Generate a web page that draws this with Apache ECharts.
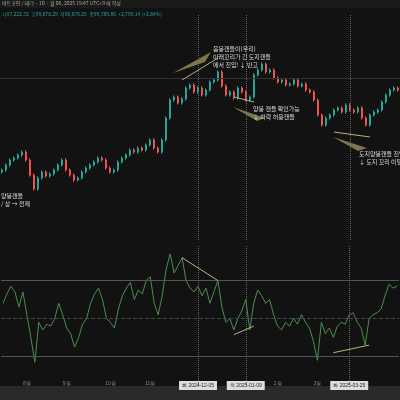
<!DOCTYPE html>
<html><head><meta charset="utf-8">
<script src="https://cdn.jsdelivr.net/npm/echarts@6/dist/echarts.min.js"></script>
<style>html,body{margin:0;background:#121212}#c{width:400px;height:400px}</style>
</head><body><div id="c"></div>
<script>
const closes=[59,61.5,64,65,66.5,68,64,56.5,49.5,55,58,56,57,59,61.5,64,59,56.5,54,55,58,60,61.5,63,65,64,60,58,59,63,65,66.5,69,68,70,69,71.5,74,70,68,74,85,94,95.5,92.5,94.5,100,101.5,98,100,96.5,99,103,104,108,101,96.5,98,95,100,98,94,95.5,106.5,109,112,108,109,105,103,104,101.5,102,104,101,102,99,98,94,86.5,81.5,85,86.5,89,90,88,91.5,89,88,90,85,81.5,86.5,88,89,93,96.5,99,100,99];
const rsi=[58,63,67,64,56,64,52,40,27,48,44,47,46,50,58,52,45,42,35,40,47,50,58,63,66,60,50,48,45,55,62,66,69,60,65,63,70,72,58,52,62,76,84,74,78,82,70,66,64,67,62,66,58,64,70,56,48,50,44,50,54,60,44,58,65,62,58,60,52,46,44,48,46,50,47,52,48,45,38,28,48,42,45,40,46,48,47,52,53,48,45,36,50,52,53,55,62,68,66,67];
const tickLabels={6:'8월',16:'9월',27:'10월',37:'11월',49:'화 2024-12-05',61:'목 2025-01-09',69:'2월',79:'3월',87:'화 2025-03-25'};
const boxed=[49,61,87];
const cats=closes.map((c,i)=>tickLabels[i]||('d'+i));
const ohlc=closes.map((c,i)=>{const o=i?closes[i-1]:c-1;return [o,c,Math.min(o,c)-0.8,Math.max(o,c)+0.8];});
const chart=echarts.init(document.getElementById('c'));
const ann='#b8b27a';
const txt=(x,y,s)=>({type:'text',left:x,top:y,z:10,style:{text:s,fill:'#ddd',font:'6px "Noto Sans CJK KR"',lineHeight:8}});
const arrow=(pts)=>({type:'polygon',shape:{points:pts},style:{fill:'rgba(150,145,90,0.8)'}});
const seg=(a,b,c,d)=>[{coord:[a,b],lineStyle:{color:ann,type:'solid',width:1}},{coord:[c,d]}];
chart.setOption({
 backgroundColor:'#121212',animation:false,
 grid:[{left:0,right:0,top:15,height:225},{left:0,right:0,top:245,height:140}],
 xAxis:[{type:'category',data:cats,gridIndex:0,axisLine:{show:false},axisTick:{show:false},axisLabel:{show:false},splitLine:{show:false}},
  {type:'category',data:cats,gridIndex:1,axisLine:{show:false},axisTick:{show:false},
   axisLabel:{interval:0,color:'#888',fontSize:5,margin:-4,formatter:(v,i)=>tickLabels[i]?(boxed.includes(i)?'{b|'+v+'}':v):'',rich:{b:{backgroundColor:'#ddd',color:'#222',padding:[2,3],fontSize:5}}},splitLine:{show:false}}],
 yAxis:[{gridIndex:0,min:24,max:136.5,show:false,splitLine:{show:false}},{gridIndex:1,min:15,max:88.7,show:false,splitLine:{show:false}}],
 series:[
  {type:'candlestick',xAxisIndex:0,yAxisIndex:0,data:ohlc,barWidth:'55%',
   itemStyle:{color:'#26a69a',color0:'#ef5350',borderColor:'#26a69a',borderColor0:'#ef5350'},
   markLine:{symbol:'none',silent:true,label:{show:false},data:[
    {yAxis:105,lineStyle:{color:'#333',type:'solid',width:1}},
    {xAxis:49,lineStyle:{color:'#666',type:'dotted',width:1}},{xAxis:61,lineStyle:{color:'#666',type:'dotted',width:1}},{xAxis:87,lineStyle:{color:'#666',type:'dotted',width:1}},
    seg(44.5,104,53.7,115),seg(58,95.5,62.75,93),seg(82.75,78,92,75.5)
   ]}},
  {type:'line',xAxisIndex:1,yAxisIndex:1,data:rsi,symbol:'none',lineStyle:{color:'#4a8f4e',width:1},
   markLine:{symbol:'none',silent:true,label:{show:false},data:[
    {yAxis:70,lineStyle:{color:'#555',type:'solid',width:1}},{yAxis:50,lineStyle:{color:'#444',type:'dashed',width:1}},{yAxis:30,lineStyle:{color:'#555',type:'solid',width:1}},
    {xAxis:49,lineStyle:{color:'#666',type:'dotted',width:1}},{xAxis:61,lineStyle:{color:'#666',type:'dotted',width:1}},{xAxis:87,lineStyle:{color:'#666',type:'dotted',width:1}},
    seg(45,82,53.75,70),seg(58,41.5,62.75,46),seg(82.5,32,92,36)
   ]}}
 ],
 graphic:[
  {type:'rect',shape:{x:0,y:386,width:400,height:14},style:{fill:'#2a2a2a'}},
  {type:'rect',shape:{x:0,y:0,width:400,height:8},style:{fill:'#1a1a1a'}},
  {type:'text',left:2,top:1,style:{text:'비트코인 / 테더 · 1D · 월 06, 2025 19:47 UTC+9 에 작성',fill:'#aaa',font:'5px "Noto Sans CJK KR"'}},
  {type:'text',left:2,top:12,style:{text:'시97,222.32  고99,878.29  저96,876.25  종99,789.86  +2,795.14 (+2.84%)',fill:'#26a69a',font:'5px "Noto Sans CJK KR"'}},
  arrow([[173,73],[211,52],[205,62]]),
  arrow([[233,107],[265,118],[257,121]]),
  arrow([[333,137],[367,148],[358,151]]),
  txt(213,45,'음봉캔들이(우리)\n아래꼬리가 긴 도지캔들\n에서 진입! ↓ 반고'),
  txt(253,105,'양봉 캔들 확인가능\n↓ 하락 허용캔들'),
  txt(359,150,'도지양봉캔들 진입가\n↓ 도지 꼬리 이탈'),
  txt(1,192,'양봉캔들\n/ 상 → 전제')
 ]
});
</script></body></html>
